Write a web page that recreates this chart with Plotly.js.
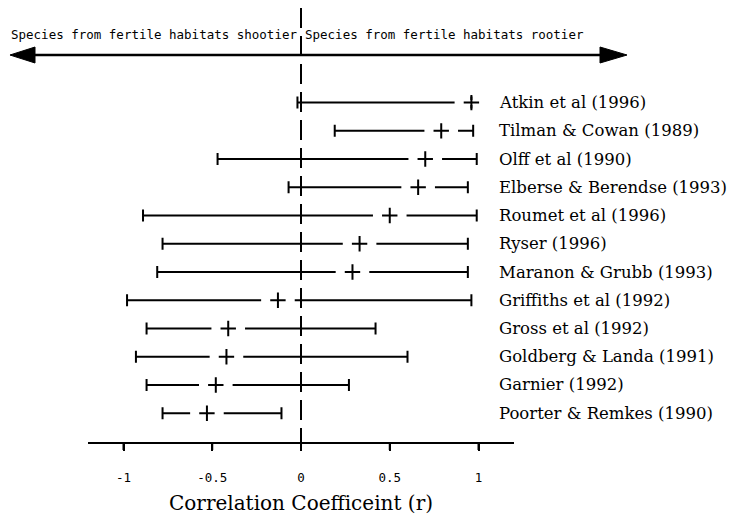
<!DOCTYPE html>
<html>
<head>
<meta charset="utf-8">
<script src="https://cdn.plot.ly/plotly-3.0.1.min.js"></script>
<style>
  html, body { margin: 0; padding: 0; background: #fff; }
  #chart { width: 729px; height: 520px; }
</style>
</head>
<body>
<div id="chart"></div>
<script>
// ---- data ----
const studies = [
  "Atkin et al (1996)",
  "Tilman & Cowan (1989)",
  "Olff et al (1990)",
  "Elberse & Berendse (1993)",
  "Roumet et al (1996)",
  "Ryser (1996)",
  "Maranon & Grubb (1993)",
  "Griffiths et al (1992)",
  "Gross et al (1992)",
  "Goldberg & Landa (1991)",
  "Garnier (1992)",
  "Poorter & Remkes (1990)"
];
const meanR  = [0.96, 0.79, 0.70, 0.66, 0.50, 0.33, 0.29, -0.13, -0.41, -0.42, -0.48, -0.53];
const lowerR = [-0.02, 0.19, -0.47, -0.07, -0.89, -0.78, -0.81, -0.98, -0.87, -0.93, -0.87, -0.78];
const upperR = [0.96, 0.97, 0.99, 0.94, 0.99, 0.94, 0.94, 0.96, 0.42, 0.60, 0.27, -0.11];
const tickValues = [-1, -0.5, 0, 0.5, 1];
const tickLabels = ["-1", "-0.5", "0", "0.5", "1"];
const leftNote  = "Species from fertile habitats shootier";
const rightNote = "Species from fertile habitats rootier";
const xTitle = "Correlation Coefficeint (r)";

const plus  = upperR.map((u, i) => u - meanR[i]);
const minus = meanR.map((m, i) => m - lowerR[i]);

const traces = [
  {
    type: "scatter", mode: "markers", x: meanR, y: studies,
    marker: { size: 1, opacity: 0 },
    error_x: { type: "data", symmetric: false, array: plus, arrayminus: minus,
               color: "#000", thickness: 2, width: 6 },
    hoverinfo: "skip", showlegend: false
  },
  {
    type: "scatter", mode: "markers", x: meanR, y: studies,
    marker: { symbol: "line-ew", size: 24, color: "#fff", line: { color: "#fff", width: 5 } },
    hoverinfo: "skip", showlegend: false
  },
  {
    type: "scatter", mode: "markers", x: meanR, y: studies,
    marker: { symbol: "cross-thin", size: 11, color: "#000", line: { color: "#000", width: 2 } },
    showlegend: false
  }
];

const annotations = studies.map(s => ({
  xref: "paper", yref: "y", x: 0.960, y: s, xanchor: "left", yanchor: "middle",
  text: s.replace(/&/g, "&amp;"), showarrow: false,
  font: { family: "DejaVu Serif", size: 16.5, color: "#000" }
}));
annotations.push(
  { xref: "x", yref: "paper", x: 0, y: 0.9378, xanchor: "right", yanchor: "middle", xshift: -2,
    text: leftNote, showarrow: false,
    font: { family: "DejaVu Sans Mono", size: 12.5, color: "#000" } },
  { xref: "x", yref: "paper", x: 0, y: 0.9378, xanchor: "left", yanchor: "middle", xshift: 2,
    text: rightNote, showarrow: false,
    font: { family: "DejaVu Sans Mono", size: 12.5, color: "#000" } }
);

const ay = 0.8917, ah = 0.0184;
const shapes = [
  { type: "line", xref: "x", yref: "paper", x0: 0, x1: 0, y0: 1, y1: 0,
    line: { color: "#000", width: 2, dash: "20px,8px" }, layer: "above" },
  { type: "line", xref: "paper", yref: "paper", x0: -0.13, x1: 1.21, y0: ay, y1: ay,
    line: { color: "#000", width: 2.5 }, layer: "above" },
  { type: "path", xref: "paper", yref: "paper",
    path: `M -0.1831,${ay} L -0.1244,${ay + ah} L -0.1244,${ay - ah} Z`,
    fillcolor: "#000", line: { color: "#000", width: 1 }, layer: "above" },
  { type: "path", xref: "paper", yref: "paper",
    path: `M 1.2653,${ay} L 1.2019,${ay + ah} L 1.2019,${ay - ah} Z`,
    fillcolor: "#000", line: { color: "#000", width: 1 }, layer: "above" }
].concat(tickValues.map(v => ({
  // tick marks below the axis line, positioned by the x axis scale
  type: "line", xref: "x", yref: "paper", x0: v, x1: v,
  ysizemode: "pixel", yanchor: 0, y0: -1, y1: -8,
  line: { color: "#000", width: 2 }, layer: "above"
})));

const layout = {
  width: 729, height: 520,
  margin: { l: 88, r: 215, t: 8, b: 78 },
  paper_bgcolor: "#fff", plot_bgcolor: "#fff",
  showlegend: false,
  xaxis: {
    range: [-1.2, 1.2], showgrid: false, zeroline: false,
    showline: true, linecolor: "#000", linewidth: 2,
    ticks: "outside", ticklen: 7, tickwidth: 2, tickcolor: "#000",
    tickvals: tickValues, ticktext: tickLabels,
    tickfont: { family: "DejaVu Sans Mono", size: 12.5, color: "#000" },
    ticklabelstandoff: 16,
    title: { text: xTitle, font: { family: "DejaVu Serif", size: 20, color: "#000" }, standoff: 12 }
  },
  yaxis: {
    type: "category", categoryarray: studies, categoryorder: "array",
    range: [12.02, -3.35], showgrid: false, zeroline: false,
    showline: false, showticklabels: false, ticks: ""
  },
  shapes: shapes,
  annotations: annotations
};

Plotly.newPlot("chart", traces, layout, { staticPlot: true, displayModeBar: false });
</script>
</body>
</html>
